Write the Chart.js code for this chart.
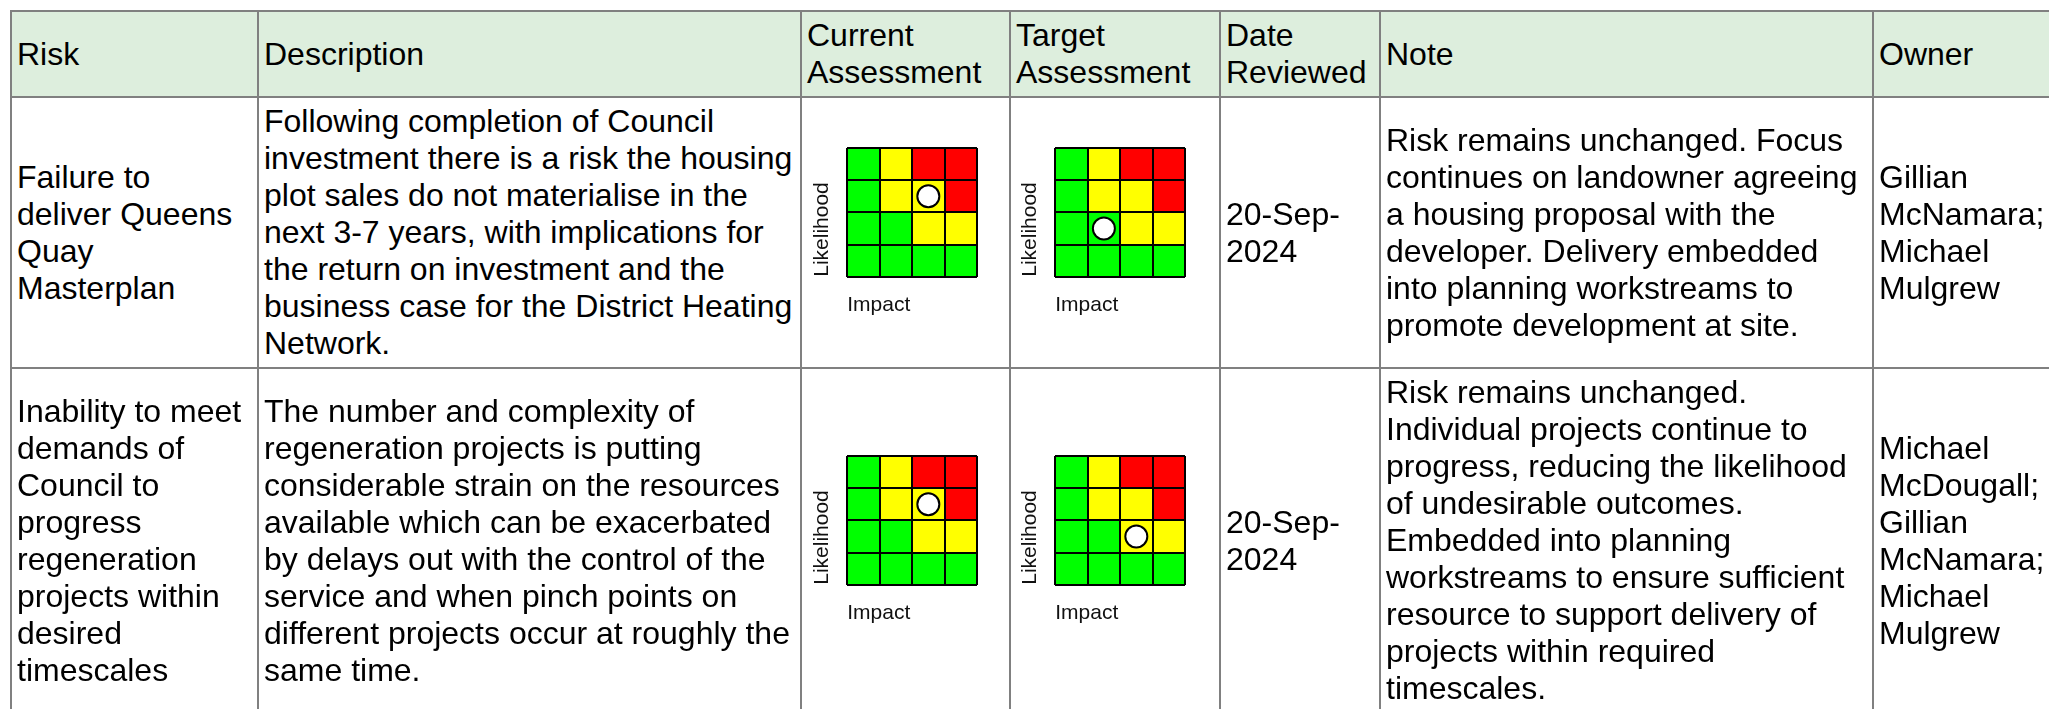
<!DOCTYPE html>
<html>
<head>
<meta charset="utf-8">
<script src="https://cdn.jsdelivr.net/npm/chart.js@4.4.1/dist/chart.umd.min.js"></script>
<style>
html, body { margin: 0; padding: 0; overflow: hidden; background: #fff; }
body { width: 2049px; height: 709px; position: relative; }
table { position: absolute; left: 10px; top: 10px; width: 2062px; border-collapse: collapse; table-layout: fixed;
	font-family: 'Liberation Sans', Arial, sans-serif; font-size: 32px; color: #000; }
th, td { border: 2px solid #808080; padding: 5px 4px 5px 5px; vertical-align: middle; text-align: left;
	font-weight: normal; line-height: normal; }
th { background: #ddeedd; }
td.c0 { padding-right: 8px; }
td.c1 { padding-right: 3px; }
td.mx { padding: 0; }
.box { width: 177px; height: 179px; }
.box canvas { display: block; }
</style>
</head>
<body>
<table id="risks">
	<colgroup>
		<col style="width:247px"><col style="width:543px"><col style="width:209px"><col style="width:210px">
		<col style="width:160px"><col style="width:493px"><col style="width:200px">
	</colgroup>
	<thead>
		<tr><th>Risk</th><th>Description</th><th>Current Assessment</th><th>Target Assessment</th><th>Date Reviewed</th><th>Note</th><th>Owner</th></tr>
	</thead>
	<tbody></tbody>
</table>
<script>
// ----------------------------------------------------------------------
//  data
// ----------------------------------------------------------------------
const impactLabels = ['1', '2', '3', '4'];
const likelihoodLevels = [1, 2, 3, 4];
const cellColours = { G: '#00ff00', Y: '#ffff00', R: '#ff0000' };
// matrix rows from likelihood 1 (bottom) up to 4 (top), cells by impact 1..4
const gradeRows = [
	['G', 'G', 'G', 'G'],
	['G', 'G', 'Y', 'Y'],
	['G', 'Y', 'Y', 'R'],
	['G', 'Y', 'R', 'R']
];
const currentImpact = [3, 3];
const currentLikelihood = [3, 3];
const targetImpact = [2, 3];
const targetLikelihood = [2, 2];

const riskNames = [
	'Failure to deliver Queens Quay Masterplan',
	'Inability to meet demands of Council to progress regeneration projects within desired timescales'
];
const descriptions = [
	'Following completion of Council investment there is a risk the housing plot sales do not materialise in the next 3-7 years, with implications for the return on investment and the business case for the District Heating Network.',
	'The number and complexity of regeneration projects is putting considerable strain on the resources available which can be exacerbated by delays out with the control of the service and when pinch points on different projects occur at roughly the same time.'
];
const reviewDates = ['20-Sep-2024', '20-Sep-2024'];
const notes = [
	'Risk remains unchanged. Focus continues on landowner agreeing a housing proposal with the developer. Delivery embedded into planning workstreams to promote development at site.',
	'Risk remains unchanged. Individual projects continue to progress, reducing the likelihood of undesirable outcomes. Embedded into planning workstreams to ensure sufficient resource to support delivery of projects within required timescales.'
];
const owners = [
	'Gillian McNamara; Michael Mulgrew',
	'Michael McDougall; Gillian McNamara; Michael Mulgrew'
];

// ----------------------------------------------------------------------
//  risk matrix
// ----------------------------------------------------------------------
var labelFont = { family: "'Liberation Sans', Arial, sans-serif", size: 21 };

var drawMatrix = function(id, impact, likelihood){
	var ctx = document.getElementById(id).getContext('2d');
	var datasets = likelihoodLevels.map(function(lv, r){
		return {
			type: 'bar',
			data: impactLabels.map(function(){ return [lv - 1, lv]; }),
			backgroundColor: gradeRows[r].map(function(g){ return cellColours[g]; }),
			borderWidth: 0,
			barPercentage: 1,
			categoryPercentage: 1,
			grouped: false
		};
	});
	datasets.push({
		type: 'line',
		data: [{ x: impactLabels[impact - 1], y: likelihood - 0.5 }],
		showLine: false,
		pointRadius: 11,
		pointHoverRadius: 11,
		pointBackgroundColor: '#fff',
		pointBorderColor: '#000',
		pointBorderWidth: 2,
		order: -1
	});
	var config = {
		type: 'bar',
		data: { labels: impactLabels, datasets: datasets },
		options: {
			responsive: false,
			animation: false,
			devicePixelRatio: 1,
			layout: { autoPadding: false, padding: { top: 5, right: 6, left: 0, bottom: 0 } },
			plugins: { legend: { display: false }, tooltip: { enabled: false } },
			scales: {
				x: {
					type: 'category', offset: true,
					grid: { color: '#000', lineWidth: 2, offset: true, drawTicks: false, z: 1 },
					border: { display: false },
					ticks: { display: false },
					title: { display: true, text: 'Impact', align: 'start', color: '#111', font: labelFont, padding: { top: 16, bottom: 4 } }
				},
				y: {
					type: 'linear', min: 0, max: 4,
					grid: { color: '#000', lineWidth: 2, drawTicks: false, z: 1 },
					border: { display: false },
					ticks: { display: false, stepSize: 1 },
					title: { display: true, text: 'Likelihood', align: 'start', color: '#111', font: labelFont, padding: { top: 4, bottom: 12 } }
				}
			}
		}
	};
	new Chart(ctx, config);
};

// ----------------------------------------------------------------------
//  table
// ----------------------------------------------------------------------
window.onload = function(){
	var body = document.querySelector('#risks tbody');
	riskNames.forEach(function(name, i){
		var tr = document.createElement('tr');
		var cells = [name, descriptions[i], null, null, reviewDates[i], notes[i], owners[i]];
		cells.forEach(function(text, c){
			var td = document.createElement('td');
			td.className = 'c' + c;
			if (text === null) {
				td.className += ' mx';
				var box = document.createElement('div');
				box.className = 'box';
				box.style.marginLeft = (c === 2 ? 4 : 3) + 'px';
				var cv = document.createElement('canvas');
				cv.id = (c === 2 ? 'cur' : 'tgt') + i;
				cv.width = 177; cv.height = 179;
				box.appendChild(cv);
				td.appendChild(box);
			} else {
				td.textContent = text;
			}
			tr.appendChild(td);
		});
		body.appendChild(tr);
	});
	riskNames.forEach(function(name, i){
		drawMatrix('cur' + i, currentImpact[i], currentLikelihood[i]);
		drawMatrix('tgt' + i, targetImpact[i], targetLikelihood[i]);
	});
};
</script>
</body>
</html>
